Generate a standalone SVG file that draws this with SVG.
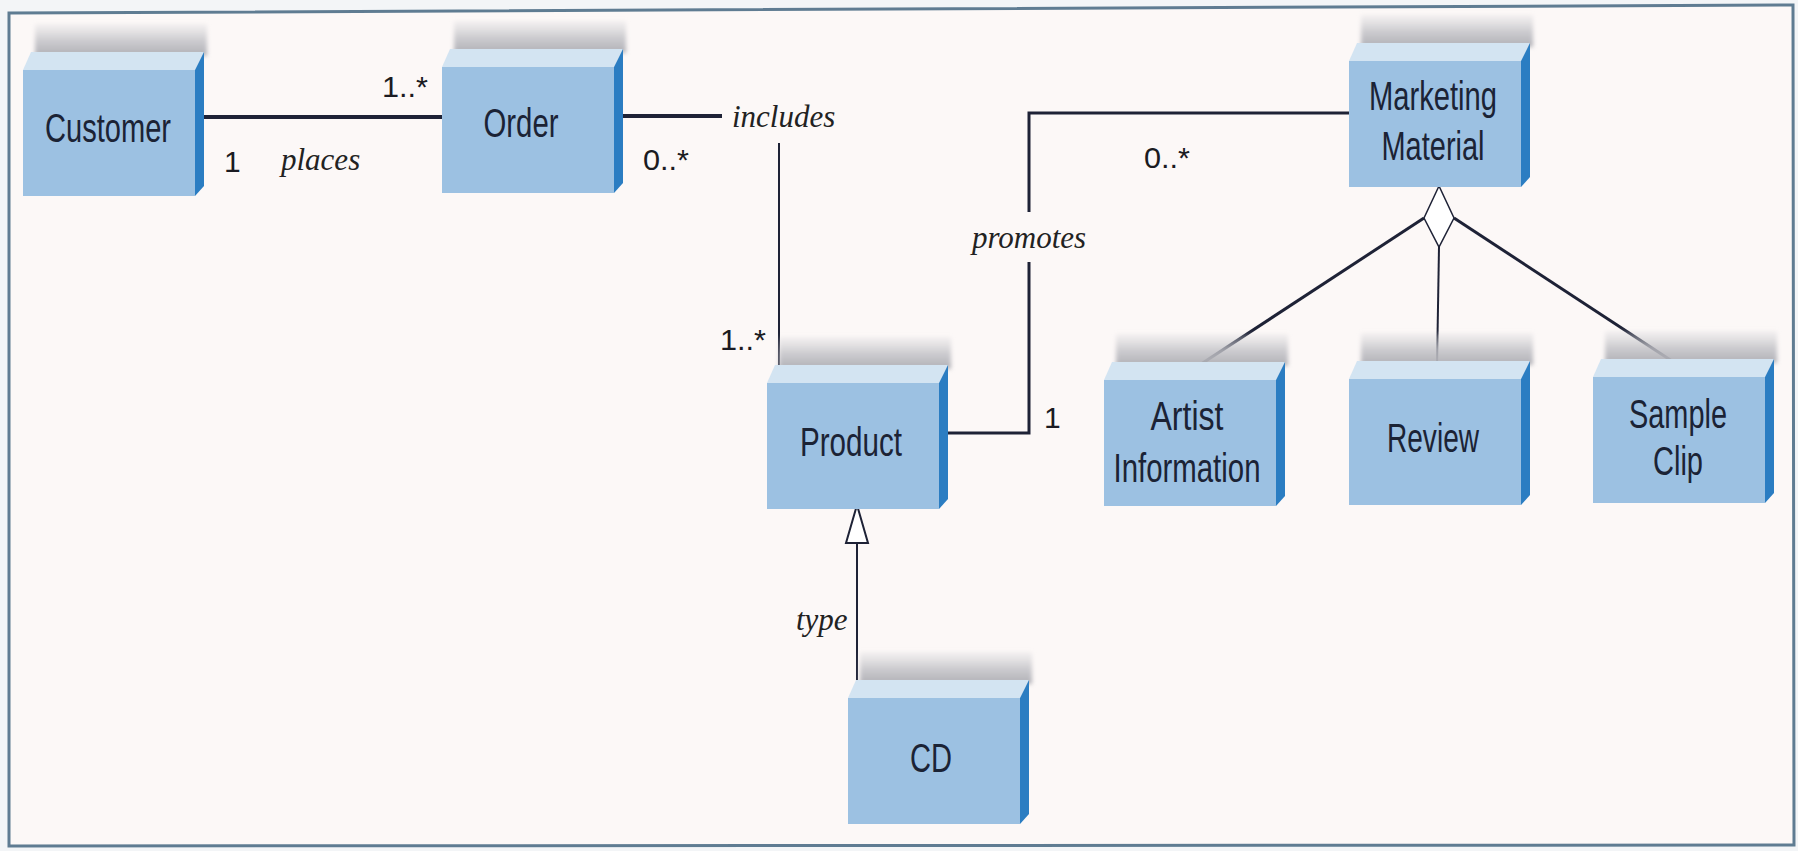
<svg xmlns="http://www.w3.org/2000/svg" xmlns:xlink="http://www.w3.org/1999/xlink" width="1798" height="851" viewBox="0 0 1798 851">
<style>
.front{fill:#9cc1e2}
.top{fill:#d3e4f2}
.side{fill:#2b7dc2}
.name{font-family:"Liberation Sans",Arial,sans-serif;font-size:40px;fill:#1b2335;text-anchor:middle}
.mult{font-family:"Liberation Sans",Arial,sans-serif;font-size:30px;fill:#1b1b22}
.role{font-family:"Liberation Serif","Times New Roman",serif;font-style:italic;font-size:31px;fill:#222}
.thick{stroke:#1e2236;stroke-width:4;fill:none}
.thin{stroke:#1e2236;stroke-width:2;fill:none}
.mid{stroke:#1e2236;stroke-width:3;fill:none}
</style>
<defs>
<linearGradient id="shadow" x1="0" y1="0" x2="0" y2="1">
<stop offset="0" stop-color="#d0d0d4" stop-opacity="0.2"/>
<stop offset="0.5" stop-color="#c2c2c7" stop-opacity="0.8"/>
<stop offset="1" stop-color="#aeaeb4" stop-opacity="1"/>
</linearGradient>
<filter id="soft" x="-10%" y="-50%" width="120%" height="200%">
<feGaussianBlur stdDeviation="2"/>
</filter>
<g id="box">
<rect x="12" y="-46" width="172" height="32" fill="url(#shadow)" filter="url(#soft)"/>
<polygon class="top" points="0,0 172,0 181,-18 8,-18"/>
<polygon class="side" points="172,0 181,-18 181,116 172,126"/>
<rect class="front" x="0" y="0" width="172" height="126"/>
</g>
</defs>
<rect x="0" y="0" width="1798" height="851" fill="#f3f5f7"/>
<path d="M9,13 L1793,5 L1794,845 L9,846 Z" fill="#fcf8f7" stroke="#5f7c92" stroke-width="3"/>

<g id="connectors">
<line class="thick" x1="204" y1="117" x2="442" y2="117"/>
<line class="thick" x1="623" y1="116" x2="722" y2="116"/>
<line class="thin" x1="779" y1="143" x2="779" y2="372"/>
<polyline class="mid" points="1349,113 1029,113 1029,212"/>
<polyline class="mid" points="1029,262 1029,433 948,433"/>
<line class="mid" x1="1424" y1="218" x2="1192" y2="370"/>
<line class="mid" x1="1454" y1="218" x2="1678" y2="365"/>
<line class="thin" x1="1439" y1="247" x2="1437" y2="367"/>
<polygon points="1439,186 1424,218 1439,247 1454,218" fill="#ffffff" stroke="#1e2236" stroke-width="1.5"/>
<line class="thin" x1="857" y1="683" x2="857" y2="543"/>
<polygon points="857,505 846,543 868,543" fill="#ffffff" stroke="#1e2236" stroke-width="2"/>
<text class="mult" x="382" y="97" textLength="46" lengthAdjust="spacingAndGlyphs">1..*</text>
<text class="mult" x="224" y="172">1</text>
<text class="role" x="281" y="170">places</text>
<text class="mult" x="643" y="170" textLength="46" lengthAdjust="spacingAndGlyphs">0..*</text>
<text class="role" x="732" y="127">includes</text>
<text class="mult" x="720" y="350" textLength="46" lengthAdjust="spacingAndGlyphs">1..*</text>
<text class="mult" x="1144" y="168" textLength="46" lengthAdjust="spacingAndGlyphs">0..*</text>
<text class="role" x="1029" y="248" text-anchor="middle">promotes</text>
<text class="mult" x="1044" y="428">1</text>
<text class="role" x="796" y="630">type</text>
</g>

<g id="customer"><use xlink:href="#box" x="23" y="70"/><text class="name" x="108" y="142" textLength="126" lengthAdjust="spacingAndGlyphs">Customer</text></g>
<g id="order"><use xlink:href="#box" x="442" y="67"/><text class="name" x="521" y="137" textLength="75" lengthAdjust="spacingAndGlyphs">Order</text></g>
<g id="marketing-material"><use xlink:href="#box" x="1349" y="61"/><text class="name" x="1433" y="110" textLength="128" lengthAdjust="spacingAndGlyphs">Marketing</text><text class="name" x="1433" y="160" textLength="103" lengthAdjust="spacingAndGlyphs">Material</text></g>
<g id="product"><use xlink:href="#box" x="767" y="383"/><text class="name" x="851" y="456" textLength="102" lengthAdjust="spacingAndGlyphs">Product</text></g>
<g id="artist-information"><use xlink:href="#box" x="1104" y="380"/><text class="name" x="1187" y="430" textLength="73" lengthAdjust="spacingAndGlyphs">Artist</text><text class="name" x="1187" y="482" textLength="147" lengthAdjust="spacingAndGlyphs">Information</text></g>
<g id="review"><use xlink:href="#box" x="1349" y="379"/><text class="name" x="1433" y="452" textLength="92" lengthAdjust="spacingAndGlyphs">Review</text></g>
<g id="sample-clip"><use xlink:href="#box" x="1593" y="377"/><text class="name" x="1678" y="428" textLength="98" lengthAdjust="spacingAndGlyphs">Sample</text><text class="name" x="1678" y="475" textLength="50" lengthAdjust="spacingAndGlyphs">Clip</text></g>
<g id="cd"><use xlink:href="#box" x="848" y="698"/><text class="name" x="931" y="772" textLength="42" lengthAdjust="spacingAndGlyphs">CD</text></g>
</svg>
